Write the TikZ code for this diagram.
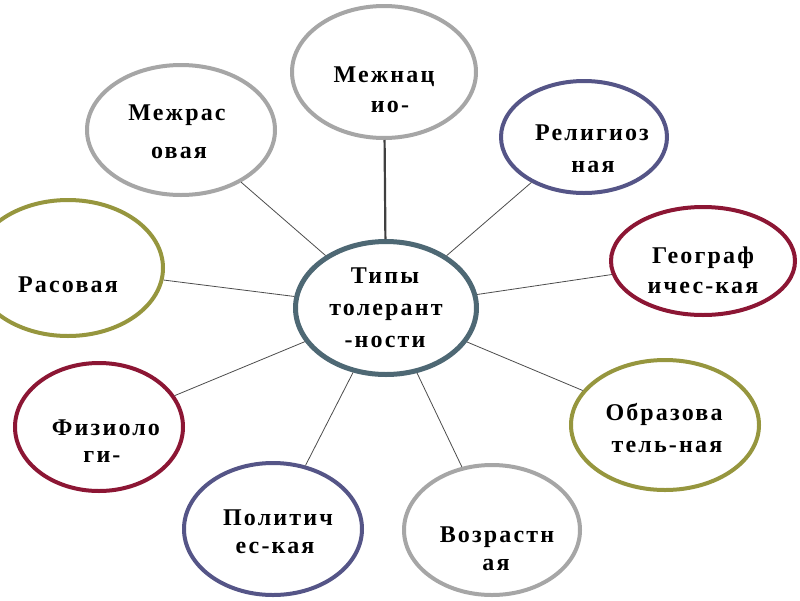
\documentclass[tikz,border=0pt]{standalone}
\usepackage{fontspec}
\setmainfont{Liberation Serif}
\newfontfamily\lblfont{Liberation Serif}[LetterSpace=9]
\usetikzlibrary{shapes.geometric}
\definecolor{cgray}{RGB}{166,166,166}
\definecolor{cslate}{RGB}{78,104,116}
\definecolor{cblue}{RGB}{85,85,135}
\definecolor{cred}{RGB}{140,22,52}
\definecolor{colive}{RGB}{150,150,62}
\tikzset{
  bub/.style={ellipse, draw, line width=4pt, fill=white, inner sep=0pt},
  lbl/.style={font=\lblfont\bfseries\fontsize{24}{28}\selectfont, anchor=base, inner sep=0pt},
  link/.style={line width=0.8pt, draw=black!70},
  mainlink/.style={line width=2.2pt, draw=black!75}
}
\begin{document}
\begin{tikzpicture}[x=1pt,y=-1pt]
\useasboundingbox (0,0) rectangle (800,600);
% bubbles
\node[bub, draw=cslate, line width=5pt, minimum width=181, minimum height=133] (c) at (386,308) {};
\node[bub, draw=cgray, minimum width=184, minimum height=132] (mn) at (384,72) {};
\node[bub, draw=cblue, minimum width=166, minimum height=112] (rel) at (584,137) {};
\node[bub, draw=cred, minimum width=184, minimum height=108] (geo) at (703,261) {};
\node[bub, draw=colive, minimum width=188, minimum height=130] (obr) at (665,425) {};
\node[bub, draw=cgray, minimum width=176, minimum height=130] (voz) at (492,530) {};
\node[bub, draw=cblue, minimum width=178, minimum height=132] (pol) at (273,529) {};
\node[bub, draw=cred, minimum width=168, minimum height=128] (fiz) at (99,427) {};
\node[bub, draw=colive, minimum width=190, minimum height=136] (ras) at (68,268) {};
\node[bub, draw=cgray, minimum width=188, minimum height=130] (mr) at (181,130) {};
% connectors
\draw[mainlink] (mn) -- (c);
\draw[link] (mr) -- (c);
\draw[link] (rel) -- (c);
\draw[link] (geo) -- (c);
\draw[link] (obr) -- (c);
\draw[link] (voz) -- (c);
\draw[link] (pol) -- (c);
\draw[link] (fiz) -- (c);
\draw[link] (ras) -- (c);
% labels
\node[lbl] (c1) at (385,283) {Типы};
\node[lbl] (c2) at (386,315) {толерант};
\node[lbl] (c3) at (385,347) {-ности};
\node[lbl] (mn1) at (384,82) {Межнац};
\node[lbl] (mn2) at (390,112) {ио-};
\node[lbl] (rel1) at (592,140) {Религиоз};
\node[lbl] (rel2) at (593,172) {ная};
\node[lbl] (geo1) at (703,263) {Географ};
\node[lbl] (geo2) at (703,293) {ичес-кая};
\node[lbl] (obr1) at (664,420) {Образова};
\node[lbl] (obr2) at (667,452) {тель-ная};
\node[lbl] (voz1) at (497,542) {Возрастн};
\node[lbl] (voz2) at (496,570) {ая};
\node[lbl] (pol1) at (278,525) {Политич};
\node[lbl] (pol2) at (275,553) {ес-кая};
\node[lbl] (fiz1) at (106,435) {Физиоло};
\node[lbl] (fiz2) at (102,462) {ги-};
\node[lbl] (ras1) at (68,292) {Расовая};
\node[lbl] (mr1) at (177,120) {Межрас};
\node[lbl] (mr2) at (179,158) {овая};
\end{tikzpicture}
\end{document}
